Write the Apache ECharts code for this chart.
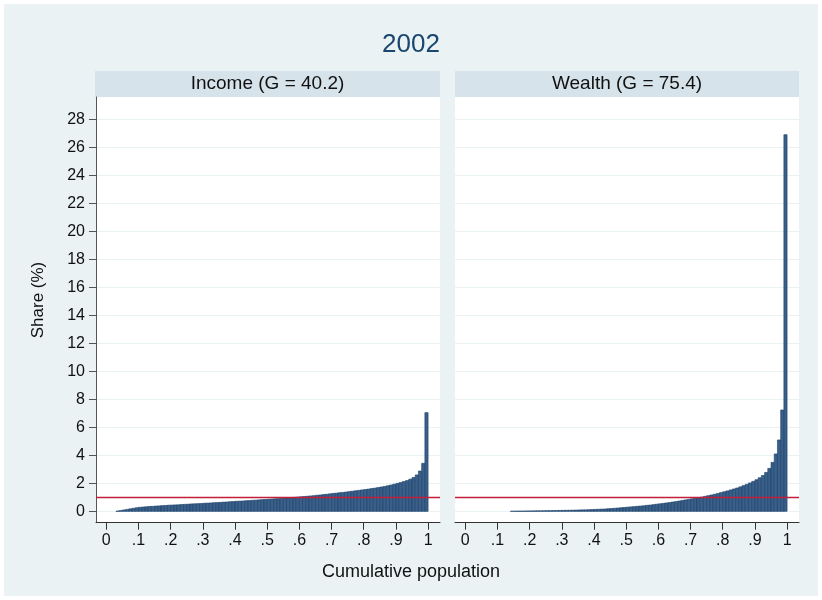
<!DOCTYPE html>
<html><head><meta charset="utf-8">
<script src="https://cdn.jsdelivr.net/npm/echarts@6/dist/echarts.min.js"></script>
<style>html,body{margin:0;padding:0;background:#ffffff;}#c{width:822px;height:600px;}</style>
</head><body><div id="c"></div>
<script>
const chartTitle = '2002';
const panelTitles = ['Income (G = 40.2)', 'Wealth (G = 75.4)'];
const xTitle = 'Cumulative population';
const yTitle = 'Share (%)';
const meanShare = 1;
const xTicks = [0, 0.1, 0.2, 0.3, 0.4, 0.5, 0.6, 0.7, 0.8, 0.9, 1];
const xTickLabels = ['0', '.1', '.2', '.3', '.4', '.5', '.6', '.7', '.8', '.9', '1'];
const yTicks = [0, 2, 4, 6, 8, 10, 12, 14, 16, 18, 20, 22, 24, 26, 28];
// share (%) held by each percentile 1..100
const incomeShare = [
  0, 0, 0, 0.02, 0.06, 0.10, 0.14, 0.18, 0.22, 0.26,
  0.29, 0.31, 0.33, 0.35, 0.36, 0.38, 0.39, 0.41, 0.42, 0.44,
  0.45, 0.46, 0.47, 0.49, 0.50, 0.51, 0.53, 0.54, 0.55, 0.56,
  0.58, 0.59, 0.60, 0.62, 0.63, 0.64, 0.66, 0.67, 0.69, 0.70,
  0.72, 0.73, 0.74, 0.76, 0.77, 0.79, 0.80, 0.82, 0.84, 0.85,
  0.87, 0.88, 0.90, 0.91, 0.93, 0.95, 0.96, 0.98, 1.00, 1.02,
  1.04, 1.06, 1.08, 1.10, 1.12, 1.15, 1.17, 1.20, 1.22, 1.25,
  1.28, 1.30, 1.33, 1.35, 1.38, 1.41, 1.44, 1.47, 1.50, 1.53,
  1.56, 1.59, 1.63, 1.66, 1.70, 1.74, 1.78, 1.83, 1.88, 1.94,
  2.00, 2.06, 2.13, 2.20, 2.30, 2.42, 2.60, 2.88, 3.43, 7.05
];
const wealthShare = [
  0, 0, 0, 0, 0, 0, 0, 0, 0, 0,
  0, 0, 0, 0, 0.01, 0.015, 0.02, 0.02, 0.025, 0.03,
  0.03, 0.035, 0.04, 0.04, 0.045, 0.05, 0.05, 0.055, 0.06, 0.065,
  0.07, 0.075, 0.08, 0.085, 0.09, 0.10, 0.105, 0.11, 0.12, 0.13,
  0.14, 0.15, 0.16, 0.17, 0.19, 0.20, 0.22, 0.24, 0.26, 0.28,
  0.30, 0.32, 0.34, 0.36, 0.38, 0.40, 0.43, 0.45, 0.48, 0.51,
  0.54, 0.57, 0.60, 0.63, 0.67, 0.70, 0.74, 0.78, 0.82, 0.86,
  0.90, 0.94, 0.98, 1.02, 1.07, 1.12, 1.17, 1.22, 1.28, 1.34,
  1.40, 1.46, 1.53, 1.60, 1.67, 1.75, 1.84, 1.93, 2.03, 2.14,
  2.26, 2.40, 2.56, 2.78, 3.07, 3.50, 4.10, 5.10, 7.24, 26.9
];

const FONT = 'Liberation Sans';
const BG = '#eaf2f3';
const STRIP = '#d6e3ea';
const BAR_FILL = '#3a5f88';
const BAR_EDGE = '#1a406a';
const RED = '#c41e3a';

function toRows(arr) {
  const rows = [];
  arr.forEach((v, i) => { if (v > 0) rows.push([i / 100, (i + 1) / 100, v]); });
  return rows;
}

const grids = [
  { left: 96, top: 97, width: 344, height: 425.7 },
  { left: 455, top: 97, width: 344, height: 425.7 }
];

function xAxisFor(i) {
  return {
    type: 'value', gridIndex: i, min: -0.032, max: 1.037,
    axisLine: { show: true, onZero: false, lineStyle: { color: '#333', width: 1 } },
    axisTick: { show: true, customValues: xTicks, length: 7, lineStyle: { color: '#333' } },
    axisLabel: {
      customValues: xTicks, margin: 10, color: '#111', fontFamily: FONT, fontSize: 16,
      formatter: v => { let k = 0, d = 9; xTicks.forEach((t, j) => { if (Math.abs(t - v) < d) { d = Math.abs(t - v); k = j; } }); return xTickLabels[k]; }
    },
    splitLine: { show: false }
  };
}
function yAxisFor(i) {
  return {
    type: 'value', gridIndex: i, min: -0.81, max: 29.59,
    axisLine: { show: i === 0, onZero: false, lineStyle: { color: '#555', width: 1 } },
    axisTick: { show: i === 0, customValues: yTicks, length: 7, lineStyle: { color: '#555' } },
    axisLabel: { show: i === 0, customValues: yTicks, margin: 11, color: '#111', fontFamily: FONT, fontSize: 16 },
    splitLine: { show: true, lineStyle: { color: '#eaf2f3', width: 1.2 } }
  };
}

function barSeries(i, arr) {
  return {
    type: 'custom', xAxisIndex: i, yAxisIndex: i,
    data: toRows(arr),
    encode: { x: [0, 1], y: 2 },
    renderItem: (params, api) => {
      const p0 = api.coord([api.value(0), 0]);
      const p1 = api.coord([api.value(1), api.value(2)]);
      return {
        type: 'rect',
        shape: { x: p0[0], y: p1[1], width: p1[0] - p0[0], height: p0[1] - p1[1] },
        style: { fill: BAR_FILL, stroke: BAR_EDGE, lineWidth: 0.6 }
      };
    },
    markLine: {
      silent: true, symbol: 'none', label: { show: false },
      lineStyle: { color: RED, width: 1.3, type: 'solid' },
      data: [{ yAxis: meanShare }]
    },
    z: 3
  };
}

const chart = echarts.init(document.getElementById('c'), null, { renderer: 'canvas' });
chart.setOption({
  animation: false,
  backgroundColor: '#ffffff',
  grid: grids,
  xAxis: [xAxisFor(0), xAxisFor(1)],
  yAxis: [yAxisFor(0), yAxisFor(1)],
  graphic: [
    { type: 'rect', z: -10, shape: { x: 4, y: 4, width: 814, height: 592 }, style: { fill: BG } },
    { type: 'rect', z: -5, shape: { x: 95, y: 71, width: 345, height: 26 }, style: { fill: STRIP } },
    { type: 'rect', z: -5, shape: { x: 455, y: 71, width: 344, height: 26 }, style: { fill: STRIP } },
    { type: 'rect', z: -5, shape: { x: 96, y: 97, width: 344, height: 425.7 }, style: { fill: '#ffffff' } },
    { type: 'rect', z: -5, shape: { x: 455, y: 97, width: 344, height: 425.7 }, style: { fill: '#ffffff' } },
    { type: 'text', x: 411, y: 45, style: { text: chartTitle, fill: '#1a476f', font: '26px "' + FONT + '"', textAlign: 'center', textVerticalAlign: 'middle' } },
    { type: 'text', x: 267.5, y: 84, style: { text: panelTitles[0], fill: '#111', font: '19px "' + FONT + '"', textAlign: 'center', textVerticalAlign: 'middle' } },
    { type: 'text', x: 627, y: 84, style: { text: panelTitles[1], fill: '#111', font: '19px "' + FONT + '"', textAlign: 'center', textVerticalAlign: 'middle' } },
    { type: 'text', x: 411, y: 572, style: { text: xTitle, fill: '#111', font: '18px "' + FONT + '"', textAlign: 'center', textVerticalAlign: 'middle' } },
    { type: 'text', x: 38, y: 300, rotation: Math.PI / 2, style: { text: yTitle, fill: '#111', font: '17px "' + FONT + '"', textAlign: 'center', textVerticalAlign: 'middle' } }
  ],
  series: [barSeries(0, incomeShare), barSeries(1, wealthShare)]
});
</script>
</body></html>
